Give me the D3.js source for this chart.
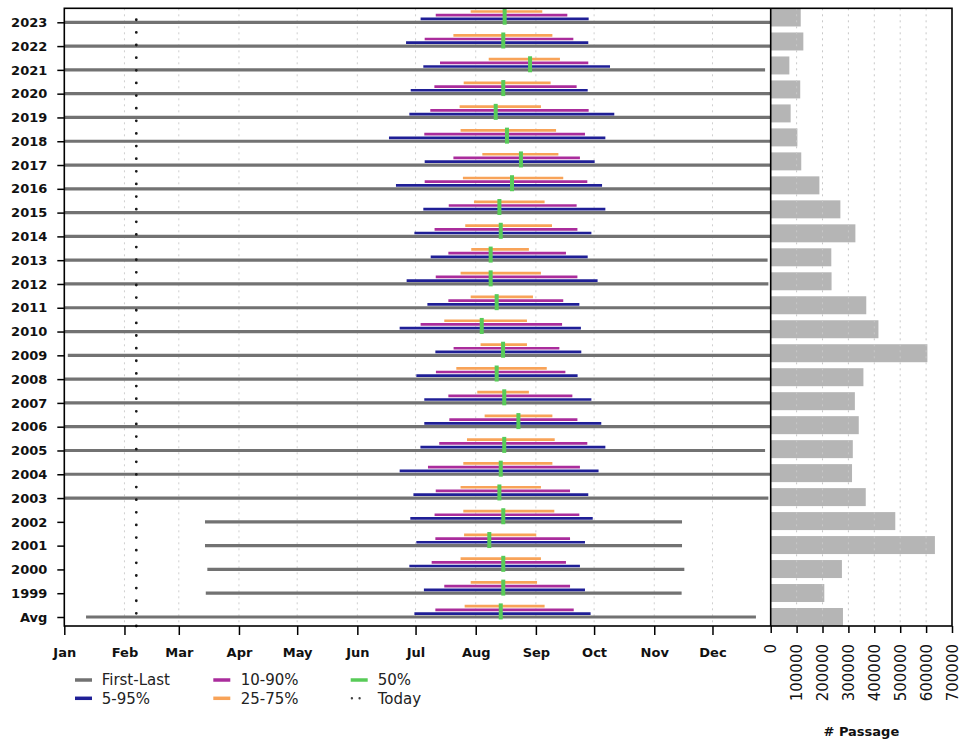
<!DOCTYPE html>
<html>
<head>
<meta charset="utf-8">
<script src="https://cdn.jsdelivr.net/npm/d3@7"></script>
<style>
  html, body { margin: 0; padding: 0; background: #fff; }
  svg { display: block; font-family: "DejaVu Sans", Verdana, sans-serif; }
</style>
</head>
<body>
<svg id="chart" width="963" height="742"></svg>
<script>
// ---------- data (day of year, 0 = Jan 1) ----------
const rows = ["2023","2022","2021","2020","2019","2018","2017","2016","2015","2014","2013","2012","2011","2010","2009","2008","2007","2006","2005","2004","2003","2002","2001","2000","1999","Avg"];
const firstDay = [0,0,0,0,0,0,0,0,0,0,0,0,0,0,1.8,0,0,0,0,0,0,72.5,72.5,73.7,72.9,11.2];
const lastDay  = [364,364,361.1,364,364,364,364,364,364,364,362.4,362.8,364,364,364,364,364,364,361.1,364,362.8,318.3,318.3,319.5,318.1,356.4];
const p5  = [183.6,176.1,185.0,178.5,177.8,167.3,185.7,170.9,185.0,180.4,188.8,176.4,187.1,172.8,191.2,181.4,185.5,185.5,183.5,172.8,179.9,178.3,181.4,177.8,185.3,180.4];
const p95 = [270.2,270.0,281.2,269.7,283.4,278.8,273.3,277.1,278.8,271.6,269.7,274.8,265.4,266.2,266.4,264.5,271.6,276.7,278.8,275.3,270.0,272.3,268.3,265.7,268.3,271.2];
const p10 = [191.4,185.7,193.6,190.7,188.6,185.5,200.5,185.7,198.1,190.8,197.9,191.4,197.9,183.6,200.6,191.5,197.9,198.4,193.2,187.4,191.4,190.8,191.2,189.3,195.8,191.2];
const p90 = [259.2,262.3,270.0,264.0,270.2,268.3,265.7,269.5,264.0,264.4,258.5,264.4,257.1,256.5,255.1,258.2,261.8,264.4,269.5,265.7,260.6,265.4,260.6,258.5,260.6,262.5];
const p25 = [209.4,200.5,218.7,205.8,203.7,204.2,215.4,205.4,211.1,206.6,209.7,204.2,209.4,195.8,214.5,202.0,212.8,216.6,207.5,205.6,204.2,205.6,206.0,204.2,209.4,206.3];
const p75 = [246.3,251.5,255.4,250.6,245.6,253.4,254.6,257.1,247.5,251.3,239.4,245.6,241.5,238.4,238.4,248.6,239.4,251.5,252.7,251.5,245.6,252.5,243.2,245.6,243.6,247.5];
const p50 = [226.9,226.2,240.0,226.2,222.3,228.1,235.3,230.7,224.2,224.9,219.7,219.7,222.8,215.1,226.1,222.8,226.7,234.0,226.7,224.9,224.2,226.2,219.0,226.2,226.2,224.9];
const passage = [116000,126000,72000,114000,77000,103000,118000,188000,269000,327000,234000,235000,369000,416000,605000,358000,325000,340000,317000,314000,367000,481000,634000,275000,207000,279000];
const todayDay = 37.1;
const monthLabels = ["Jan","Feb","Mar","Apr","May","Jun","Jul","Aug","Sep","Oct","Nov","Dec"];
const monthStarts = [0,31,59,90,120,151,181,212,243,273,304,334];
const passageTicks = [0,100000,200000,300000,400000,500000,600000,700000];
const legendItems = [
  {label:"First-Last", key:"gray"},
  {label:"5-95%", key:"blue"},
  {label:"10-90%", key:"purple"},
  {label:"25-75%", key:"orange"},
  {label:"50%", key:"green"},
  {label:"Today", key:"today"}
];

// ---------- styles ----------
const colors = { gray:"#727272", blue:"#1f1f96", purple:"#aa2c9c", orange:"#f8a358", green:"#58cb58", bar:"#b5b5b5" };

// ---------- layout ----------
const L = { left: 64.3, right: 770.7, top: 8.3, bottom: 626 };
const R = { left: 770.7, right: 952 };

const svg = d3.select("#chart");

const x = d3.scaleLinear().domain([0, 364]).range([L.left, L.right]);
const y = d3.scalePoint().domain(rows).range([22.3, 617]);
const xb = d3.scaleLinear().domain([0, 700000]).range([R.left, R.right]);
const yb = d3.scaleBand().domain(rows).range([8.5, L.bottom]).paddingInner(0.25).paddingOuter(0);

// grid: months (left)
svg.append("g").selectAll("line").data(monthStarts.slice(1)).join("line")
  .attr("x1", d => x(d)).attr("x2", d => x(d))
  .attr("y1", L.top).attr("y2", L.bottom)
  .attr("stroke", "#cfcfcf").attr("stroke-width", 1).attr("stroke-dasharray", "2,4");

// bars (right)
svg.append("g").selectAll("rect").data(rows).join("rect")
  .attr("x", xb(0)).attr("y", d => yb(d))
  .attr("width", (d, i) => xb(passage[i]) - xb(0))
  .attr("height", yb.bandwidth())
  .attr("fill", colors.bar);

// grid: passage (right)
svg.append("g").selectAll("line").data(passageTicks.slice(1, -1)).join("line")
  .attr("x1", d => xb(d)).attr("x2", d => xb(d))
  .attr("y1", L.top).attr("y2", L.bottom)
  .attr("stroke", "#c8c8c8").attr("stroke-width", 1).attr("stroke-dasharray", "2,4");

// range lines
const g = svg.append("g");
function rangeLines(lo, hi, dy, color, w) {
  g.append("g").selectAll("line").data(rows).join("line")
    .attr("x1", (d, i) => x(lo[i])).attr("x2", (d, i) => x(hi[i]))
    .attr("y1", d => y(d) + dy).attr("y2", d => y(d) + dy)
    .attr("stroke", color).attr("stroke-width", w);
}
rangeLines(firstDay, lastDay, 0, colors.gray, 3.2);
rangeLines(p5, p95, -3.4, colors.blue, 2.7);
rangeLines(p10, p90, -7.1, colors.purple, 2.7);
rangeLines(p25, p75, -10.8, colors.orange, 2.7);
g.append("g").selectAll("rect").data(rows).join("rect")
  .attr("x", (d, i) => x(p50[i]) - 2).attr("width", 4)
  .attr("y", d => y(d) - 13.6).attr("height", 16)
  .attr("fill", colors.green);

// today dotted line (round dots, on top)
svg.append("line")
  .attr("x1", x(todayDay)).attr("x2", x(todayDay))
  .attr("y1", L.bottom).attr("y2", L.top)
  .attr("stroke", "#1a1a1a").attr("stroke-width", 2.8)
  .attr("stroke-linecap", "round")
  .attr("stroke-dasharray", "0,12.63");

// frame
const frame = svg.append("g").attr("stroke", "#000").attr("stroke-width", 1.6).attr("fill", "none");
frame.append("rect").attr("x", L.left).attr("y", L.top).attr("width", R.right - L.left).attr("height", L.bottom - L.top);
frame.append("line").attr("x1", R.left).attr("x2", R.left).attr("y1", L.top).attr("y2", L.bottom);

// y axis (rows)
const yAxis = svg.append("g").attr("transform", `translate(${L.left},0)`)
  .call(d3.axisLeft(y).tickSize(7).tickPadding(10));
yAxis.select(".domain").remove();
yAxis.selectAll("line").attr("stroke", "#000").attr("stroke-width", 1.5);
yAxis.selectAll("text").attr("font-size", 13).attr("font-weight", "bold").attr("fill", "#111")
  .attr("font-family", "DejaVu Sans");

// x axis (months)
const xAxis = svg.append("g").attr("transform", `translate(0,${L.bottom})`)
  .call(d3.axisBottom(x).tickValues(monthStarts).tickFormat((d, i) => monthLabels[i]).tickSize(9).tickPadding(13));
xAxis.select(".domain").remove();
xAxis.selectAll("line").attr("stroke", "#000").attr("stroke-width", 1.5);
xAxis.selectAll("text").attr("font-size", 13).attr("font-weight", "bold").attr("fill", "#111")
  .attr("font-family", "DejaVu Sans");

// passage axis
const bAxis = svg.append("g").attr("transform", `translate(0,${L.bottom})`)
  .call(d3.axisBottom(xb).tickValues(passageTicks).tickFormat(d3.format("d")).tickSize(7).tickPadding(11));
bAxis.select(".domain").remove();
bAxis.selectAll("line").attr("stroke", "#000").attr("stroke-width", 1.5);
bAxis.selectAll("text")
  .attr("font-size", 15).attr("fill", "#111").attr("font-family", "DejaVu Sans")
  .attr("text-anchor", "end").attr("dy", "0.35em")
  .attr("transform", "translate(0,18)rotate(-90)")
  .attr("y", 0).attr("x", 0);

svg.append("text")
  .attr("x", (R.left + R.right) / 2).attr("y", 736)
  .attr("text-anchor", "middle").attr("font-size", 13).attr("font-weight", "bold").attr("fill", "#111")
  .text("# Passage");

// legend
const legendPos = [
  {lx: 75, tx: 101.7, y: 680}, {lx: 75, tx: 101.7, y: 698.3},
  {lx: 213.3, tx: 240.7, y: 680}, {lx: 213.3, tx: 240.7, y: 698.3},
  {lx: 350.7, tx: 377.7, y: 680}, {lx: 350.7, tx: 377.7, y: 698.3}
];
const lg = svg.append("g");
legendItems.forEach((it, i) => {
  const p = legendPos[i];
  if (it.key === "today") {
    lg.append("line").attr("x1", p.lx + 1.2).attr("x2", p.lx + 9).attr("y1", p.y).attr("y2", p.y)
      .attr("stroke", "#444").attr("stroke-width", 2.4).attr("stroke-linecap", "round")
      .attr("stroke-dasharray", "0,7.7");
  } else {
    lg.append("line").attr("x1", p.lx).attr("x2", p.lx + 17).attr("y1", p.y).attr("y2", p.y)
      .attr("stroke", colors[it.key]).attr("stroke-width", 3.5);
  }
  lg.append("text").attr("x", p.tx).attr("y", p.y).attr("dy", "0.36em")
    .attr("font-size", 15).attr("fill", "#222").text(it.label);
});
</script>
</body>
</html>
